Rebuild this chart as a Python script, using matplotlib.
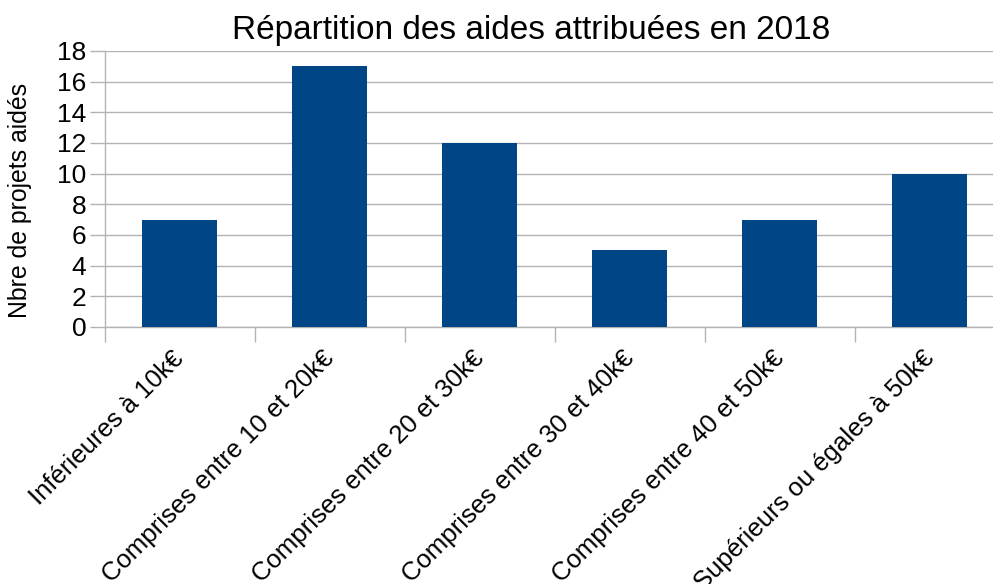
import matplotlib
matplotlib.use("Agg")
import matplotlib.pyplot as plt
import matplotlib.transforms as mtransforms

categories = ["Inférieures à 10k€", "Comprises entre 10 et 20k€", "Comprises entre 20 et 30k€",
              "Comprises entre 30 et 40k€", "Comprises entre 40 et 50k€", "Supérieurs ou égales à 50k€"]
values = [7, 17, 12, 5, 7, 10]
yticks = list(range(0, 19, 2))

plt.rcParams['font.family'] = ['Liberation Sans', 'DejaVu Sans']

fig = plt.figure(figsize=(9.93, 5.84), dpi=100)
W, H = 993, 584
left, right, top, bottom = 104.5, 1005, 51, 327
ax = fig.add_axes([left / W, 1 - bottom / H, (right - left) / W, (bottom - top) / H])

x = list(range(len(categories)))
ax.bar(x, values, width=0.5, color="#004586", zorder=3)
ax.set_xlim(-0.5, len(categories) - 0.5)
ax.set_ylim(0, 18)
ax.set_yticks(yticks)
ax.set_yticklabels([str(v) for v in yticks], fontsize=19)
ax.grid(axis="y", color="#b3b3b3", linewidth=1, zorder=0)
ax.tick_params(axis="y", length=11, color="#b3b3b3", width=1, pad=2)

ax.set_xticks([i - 0.5 for i in range(len(categories) + 1)])
ax.set_xticklabels([])
ax.tick_params(axis="x", length=11, color="#b3b3b3", width=1)
ax.set_xticks(x, minor=True)
ax.set_xticklabels(categories, minor=True, rotation=45, ha="right", va="top",
                   rotation_mode="anchor", fontsize=18.5)
ax.tick_params(axis="x", which="minor", length=0, pad=14)
offset = mtransforms.ScaledTranslation(-8 / 100, 0, fig.dpi_scale_trans)
for lbl in ax.get_xticklabels(minor=True):
    lbl.set_transform(lbl.get_transform() + offset)

for s in ["top", "right"]:
    ax.spines[s].set_visible(False)
for s in ["left", "bottom"]:
    ax.spines[s].set_color("#b3b3b3")
    ax.spines[s].set_linewidth(1)

ax.set_ylabel("Nbre de projets aidés", fontsize=17.9)
ax.yaxis.set_label_coords(-73 / (right - left), (bottom - 200) / (bottom - top))
fig.text(531 / W, 1 - 30 / H, "Répartition des aides attribuées en 2018", fontsize=24,
         ha="center", va="center")

fig.savefig("out.png", dpi=100)
